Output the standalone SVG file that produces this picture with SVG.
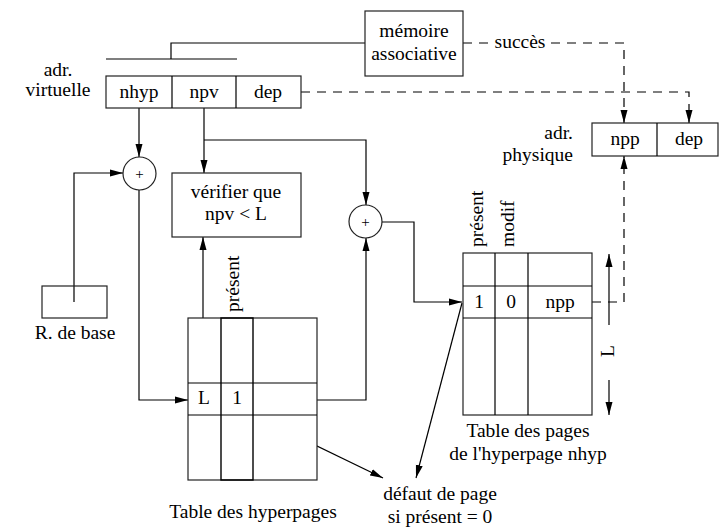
<svg xmlns="http://www.w3.org/2000/svg" width="720" height="528" viewBox="0 0 720 528">
<style>
text{font-family:"Liberation Serif","DejaVu Serif","Noto Serif",serif;font-size:19.5px;fill:#000}
.m{text-anchor:middle}
.e{text-anchor:end}
.plus{font-size:15px}
.box{fill:#fff;stroke:#222;stroke-width:1.2}
.ln{fill:none;stroke:#000;stroke-width:1.2}
.ds{fill:none;stroke:#000;stroke-width:1.2;stroke-dasharray:9,7}
.arr{marker-end:url(#ah)}
</style>
<defs>
<marker id="ah" markerUnits="userSpaceOnUse" markerWidth="13" markerHeight="8" refX="13" refY="4" orient="auto">
<path d="M0,0.5 L13,4 L0,7.5 z" fill="#000"/>
</marker>
</defs>
<rect width="720" height="528" fill="#fff"/>

<g id="connectors">
<path class="ln" d="M365,43 H171 V59"/>
<path class="ln" d="M106,59 H237"/>
<path class="ln arr" d="M139,108 V157"/>
<path class="ln arr" d="M204,108 V173"/>
<path class="ln arr" d="M204,140 H366 V205"/>
<path class="ln arr" d="M74,302 V173 H123"/>
<path class="ln arr" d="M139,190 V400 H188"/>
<path class="ln arr" d="M203,383 V237"/>
<path class="ln arr" d="M284,400 H366 V238"/>
<path class="ln arr" d="M382,222 H414 V302 H462"/>
<path class="ln arr" d="M253,415 L383,478"/>
<path class="ln arr" d="M462,303 L416,478"/>
<path class="ds arr" d="M592,302 H624 V156"/>
<path class="ds" d="M463,43 H489"/>
<path class="ds arr" d="M551,43 H624 V123"/>
<path class="ds arr" d="M301,92 H689 V123"/>
<path class="ln arr" d="M609,325 V254"/>
<path class="ln arr" d="M609,380 V415"/>
</g>

<g id="virtual-address">
<text class="m" x="58" y="76">adr.</text>
<text class="m" x="58" y="96">virtuelle</text>
<rect class="box" x="106" y="76" width="195" height="32"/>
<path class="ln" d="M172,76 V108 M236,76 V108"/>
<text class="m" x="139" y="98">nhyp</text>
<text class="m" x="204" y="98">npv</text>
<text class="m" x="268" y="98">dep</text>
</g>

<g id="associative-memory">
<rect class="box" x="365" y="11" width="98" height="65"/>
<text class="m" x="414" y="37">mémoire</text>
<text class="m" x="414" y="60">associative</text>
</g>

<g id="success-label">
<text class="m" x="520" y="48">succès</text>
</g>

<g id="physical-address">
<text class="e" x="573" y="139">adr.</text>
<text class="e" x="573" y="161">physique</text>
<rect class="box" x="592" y="123" width="126" height="33"/>
<path class="ln" d="M657,123 V156"/>
<text class="m" x="625" y="145">npp</text>
<text class="m" x="689" y="145">dep</text>
</g>

<g id="adder1">
<circle class="box" cx="139.5" cy="173.5" r="16.5"/>
<text class="m plus" x="139.5" y="179">+</text>
</g>

<g id="adder2">
<circle class="box" cx="365.5" cy="221.5" r="16.5"/>
<text class="m plus" x="365.5" y="227">+</text>
</g>

<g id="verifier">
<rect class="box" x="172" y="173" width="129" height="64"/>
<text class="m" x="236" y="198">vérifier que</text>
<text class="m" x="236" y="220">npv &lt; L</text>
</g>

<g id="base-register">
<rect class="box" x="42" y="286" width="65" height="32" style="fill:none"/>
<text class="m" x="75" y="339">R. de base</text>
</g>

<g id="hyperpage-table">
<rect class="box" x="188" y="318" width="129" height="162"/>
<rect class="ln" x="221" y="318" width="32" height="162" style="stroke-width:1.4"/>
<path class="ln" d="M188,383 H317 M188,415 H317"/>
<text transform="translate(239,312) rotate(-90)">présent</text>
<text class="m" x="204" y="404">L</text>
<text class="m" x="237" y="404">1</text>
<text class="m" x="253" y="518">Table des hyperpages</text>
</g>

<g id="page-table">
<rect class="box" x="463" y="253" width="129" height="162" style="fill:none"/>
<path class="ln" d="M495,253 V415 M528,253 V415 M463,286 H592 M463,318 H592"/>
<text transform="translate(483,247) rotate(-90)">présent</text>
<text transform="translate(514,247) rotate(-90)">modif</text>
<text class="m" x="479" y="308">1</text>
<text class="m" x="511" y="308">0</text>
<text class="m" x="560" y="308">npp</text>
<text class="m" transform="translate(614,351) rotate(-90)">L</text>
<text class="m" x="528" y="437">Table des pages</text>
<text class="m" x="528" y="460">de l'hyperpage nhyp</text>
</g>

<g id="page-fault">
<text class="m" x="440" y="500">défaut de page</text>
<text class="m" x="440" y="523">si présent = 0</text>
</g>
</svg>
